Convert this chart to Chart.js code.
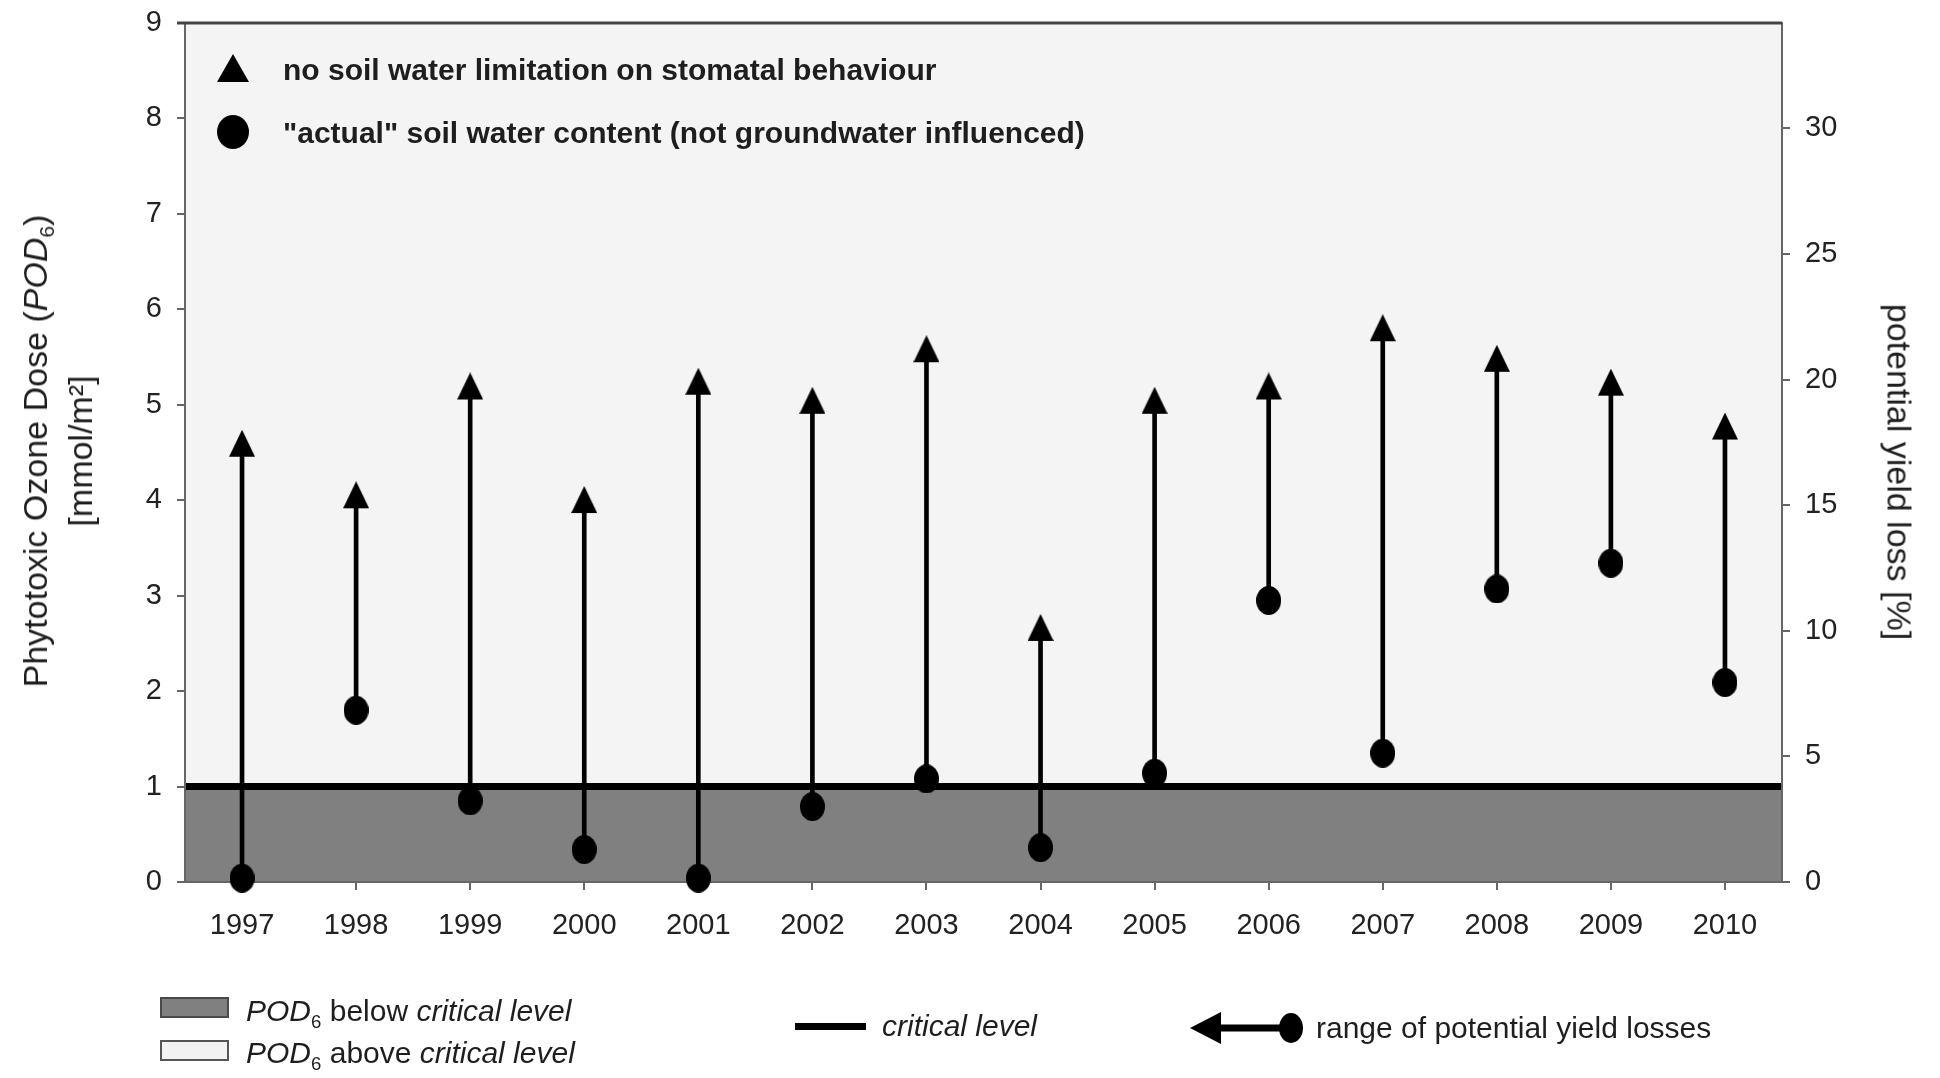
<!DOCTYPE html>
<html>
<head>
<meta charset="utf-8">
<title>POD6 and potential yield loss 1997-2010</title>
<script src="https://cdn.jsdelivr.net/npm/chart.js@4.4.0/dist/chart.umd.min.js"></script>
<style>
    html, body { margin: 0; padding: 0; background: #fff; }
    #wrap {
        position: relative; width: 1940px; height: 1078px; overflow: hidden;
        font-family: "Liberation Sans", Arial, sans-serif; color: #1e1e1e;
    }
    #chart { position: absolute; left: 0; top: 0; }
    .abs { position: absolute; white-space: nowrap; }
    sub { font-size: 0.62em; vertical-align: -0.35em; line-height: 0; }
    .axis-title { font-size: 34px; line-height: 45px; text-align: center; }
    .key-bold { font-size: 30px; font-weight: bold; line-height: 34px; }
    .key { font-size: 30px; line-height: 34px; }
</style>
</head>
<body>
<div id="wrap">
    <canvas id="chart" width="1940" height="1078"></canvas>

    <!-- axis titles -->
    <div class="abs axis-title" style="left:58px; top:451px; transform:translate(-50%,-50%) rotate(-90deg);">
        Phytotoxic Ozone Dose (<i>POD</i><sub>6</sub>)<br>[mmol/m²]
    </div>
    <div class="abs axis-title" style="left:1899px; top:472px; transform:translate(-50%,-50%) rotate(90deg);">
        potential yield loss [%]
    </div>

    <!-- key inside the plot -->
    <svg class="abs" style="left:217px; top:54px;" width="32" height="28">
        <polygon points="16,0 32,28 0,28" fill="#000"/>
    </svg>
    <svg class="abs" style="left:217px; top:115px;" width="32" height="34">
        <ellipse cx="16" cy="17" rx="16" ry="17" fill="#000"/>
    </svg>
    <div class="abs key-bold" style="left:283px; top:53px;">no soil water limitation on stomatal behaviour</div>
    <div class="abs key-bold" style="left:283px; top:116px;">"actual" soil water content (not groundwater influenced)</div>

    <!-- key below the plot -->
    <div class="abs" style="left:160px; top:997px; width:65px; height:17px; background:#808080; border:2px solid #4a4a4a;"></div>
    <div class="abs" style="left:160px; top:1040px; width:65px; height:17px; background:#f2f2f2; border:2px solid #555;"></div>
    <div class="abs key" style="left:246px; top:994px;"><i>POD</i><sub>6</sub> below <i>critical level</i></div>
    <div class="abs key" style="left:246px; top:1036px;"><i>POD</i><sub>6</sub> above <i>critical level</i></div>

    <div class="abs" style="left:795px; top:1023px; width:71px; height:7px; background:#000;"></div>
    <div class="abs key" style="left:882px; top:1009px;"><i>critical level</i></div>

    <svg class="abs" style="left:1188px; top:1010px;" width="120" height="36">
        <polygon points="2,18 33,2 33,34" fill="#000"/>
        <line x1="30" y1="18" x2="103" y2="18" stroke="#000" stroke-width="7"/>
        <ellipse cx="103" cy="18" rx="12" ry="15" fill="#000"/>
    </svg>
    <div class="abs key" style="left:1316px; top:1011px;">range of potential yield losses</div>
</div>

<script>
// Years on the x axis
const years = [1997, 1998, 1999, 2000, 2001, 2002, 2003, 2004, 2005, 2006, 2007, 2008, 2009, 2010];

// POD6 [mmol/m²] without soil water limitation (triangles)
const podNoLimitation = [4.55, 4.01, 5.15, 3.96, 5.20, 5.00, 5.54, 2.62, 5.00, 5.15, 5.76, 5.44, 5.19, 4.73];

// POD6 [mmol/m²] with "actual" soil water content (circles)
const podActual = [0.04, 1.80, 0.85, 0.34, 0.04, 0.79, 1.08, 0.36, 1.14, 2.95, 1.35, 3.07, 3.34, 2.09];

// critical level and the axis ranges
const criticalLevel = 1;
const xRange = [1996.5, 2010.5];
const podTicks = [0, 1, 2, 3, 4, 5, 6, 7, 8, 9];
const yieldTicks = [0, 5, 10, 15, 20, 25, 30];
const yieldLossPerPod = 3.8;   // % yield loss per mmol/m²

const tickFont = { family: 'Liberation Sans', size: 29 };
const tickColor = '#222';
const lineGrey = '#666';

// marker images: a triangle whose centroid sits in the middle of the image, and a slightly tall dot
function triangleMarker(w, h) {
    const c = document.createElement('canvas');
    c.width = w;
    c.height = Math.round(h * 4 / 3);
    const g = c.getContext('2d');
    g.fillStyle = '#000';
    g.beginPath();
    g.moveTo(w / 2, 0);
    g.lineTo(w, h);
    g.lineTo(0, h);
    g.closePath();
    g.fill();
    return c;
}

function dotMarker(w, h) {
    const c = document.createElement('canvas');
    c.width = w;
    c.height = h;
    const g = c.getContext('2d');
    g.fillStyle = '#000';
    g.beginPath();
    g.ellipse(w / 2, h / 2, w / 2, h / 2, 0, 0, Math.PI * 2);
    g.fill();
    return c;
}

// fixed plot box: drop the label padding chart.js adds above/below vertical axes
function fixVertical(width) {
    return s => {
        s.width = width;
        s.paddingTop = 0;
        s.paddingBottom = 0;
    };
}

// light background of the plot and the frame drawn over the grey band
const plotFrame = {
    id: 'plotFrame',
    beforeDraw(chart) {
        const a = chart.chartArea, ctx = chart.ctx;
        ctx.save();
        ctx.fillStyle = '#f4f4f4';
        ctx.fillRect(a.left, a.top, a.right - a.left, a.bottom - a.top);
        ctx.restore();
    },
    afterDatasetDraw(chart, args) {
        if (args.index !== 0) return;
        const a = chart.chartArea, ctx = chart.ctx;
        ctx.save();
        ctx.strokeStyle = lineGrey;
        ctx.lineWidth = 2;
        ctx.strokeRect(a.left, a.top, a.right - a.left, a.bottom - a.top);
        ctx.strokeStyle = '#444';
        ctx.lineWidth = 3;
        ctx.beginPath();
        ctx.moveTo(a.left - 8, a.top);
        ctx.lineTo(a.right, a.top);
        ctx.stroke();
        ctx.restore();
    }
};

new Chart(document.getElementById('chart'), {
    type: 'scatter',
    data: {
        datasets: [
            {
                // critical level line, grey band below it
                type: 'line',
                data: xRange.map(x => ({ x: x, y: criticalLevel })),
                borderColor: '#000',
                borderWidth: 7,
                backgroundColor: '#808080',
                fill: 'origin',
                pointRadius: 0,
                order: 3
            },
            {
                // range of potential yield losses
                type: 'bar',
                data: years.map((yr, i) => ({ x: yr, y: [podActual[i], podNoLimitation[i]] })),
                backgroundColor: '#000',
                barThickness: 4,
                order: 2
            },
            {
                data: years.map((yr, i) => ({ x: yr, y: podActual[i] })),
                pointStyle: dotMarker(25, 29),
                pointRadius: 13,
                clip: false,
                order: 1
            },
            {
                data: years.map((yr, i) => ({ x: yr, y: podNoLimitation[i] })),
                pointStyle: triangleMarker(26, 27),
                pointRadius: 14,
                clip: false,
                order: 0
            }
        ]
    },
    options: {
        responsive: false,
        devicePixelRatio: 1,
        animation: false,
        events: [],
        layout: { padding: { top: 23, left: 0, right: 0, bottom: 0 } },
        plugins: {
            legend: { display: false },
            tooltip: { enabled: false }
        },
        scales: {
            x: {
                type: 'linear',
                min: xRange[0],
                max: xRange[1],
                offset: false,
                afterBuildTicks: s => { s.ticks = years.map(v => ({ value: v })); },
                afterFit: s => { s.height = 196; },
                ticks: { callback: v => String(v), font: tickFont, color: tickColor, padding: 19, maxRotation: 0, autoSkip: false },
                grid: { offset: false, drawOnChartArea: false, tickLength: 8, color: lineGrey, lineWidth: 2 },
                border: { display: true, color: lineGrey, width: 2 }
            },
            y: {
                position: 'left',
                min: 0,
                max: podTicks[podTicks.length - 1],
                afterBuildTicks: s => { s.ticks = podTicks.map(v => ({ value: v })); },
                afterFit: fixVertical(185),
                ticks: { font: tickFont, color: tickColor, padding: 15 },
                grid: { drawOnChartArea: false, tickLength: 8, color: lineGrey, lineWidth: 2 },
                border: { display: true, color: lineGrey, width: 2 }
            },
            y2: {
                position: 'right',
                min: 0,
                max: podTicks[podTicks.length - 1] * yieldLossPerPod,
                afterBuildTicks: s => { s.ticks = yieldTicks.map(v => ({ value: v })); },
                afterFit: fixVertical(158),
                ticks: { font: tickFont, color: tickColor, padding: 15 },
                grid: { drawOnChartArea: false, tickLength: 8, color: lineGrey, lineWidth: 2 },
                border: { display: true, color: lineGrey, width: 2 }
            }
        }
    },
    plugins: [plotFrame]
});
</script>
</body>
</html>
